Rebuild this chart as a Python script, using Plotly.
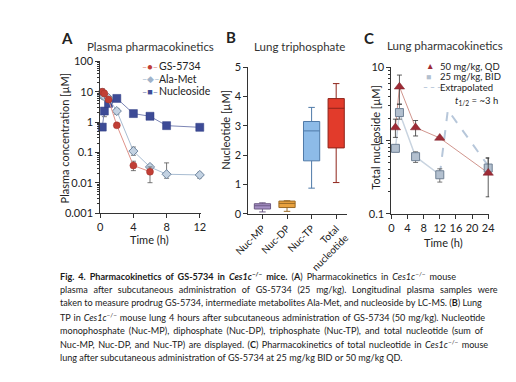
import plotly.graph_objects as go

W, H = 516, 382
FONT = "Lato, 'Open Sans', sans-serif"
TXT = "#222222"
AX = "#333333"

# ---------------- Panel A: plasma pharmacokinetics ----------------
a_time_gs = [0.25, 0.5, 1, 2, 4, 6]
a_gs = [10.0, 8.7, 5.5, 0.78, 0.037, 0.023]
a_gs_up = [2.5, 2.0, 1.0, 0.1, 0.014, 0.010]
a_gs_dn = [2.0, 1.5, 1.0, 0.1, 0.012, 0.013]

a_time = [0.25, 0.5, 1, 2, 4, 6, 8, 12]
a_ala = [7.5, 7.0, 6.2, 2.3, 0.11, 0.033, 0.019, 0.018]
a_ala_up = [2.0, 1.5, 1.0, 0.5, 0.04, 0.006, 0.026, 0.004]
a_ala_dn = [1.5, 1.0, 0.8, 0.5, 0.03, 0.006, 0.005, 0.004]
a_nuc = [0.68, 2.3, 4.1, 6.0, 1.9, 1.55, 0.76, 0.67]
a_nuc_up = [0.1, 0.5, 0.6, 0.6, 0.2, 0.15, 0.08, 0.05]
a_nuc_dn = [0.1, 0.8, 0.6, 0.6, 0.2, 0.15, 0.08, 0.05]

a_yticks = [0.001, 0.01, 0.1, 1, 10, 100]
a_yticktext = ["0.001", "0.01", "0.1", "1", "10", "100"]
a_xticks = [0, 4, 8, 12]

# ---------------- Panel B: lung triphosphate ----------------
b_cats = ["Nuc-MP", "Nuc-DP", "Nuc-TP", "Total<br>nucleotide"]
b_q1 = [0.17, 0.22, 1.81, 2.25]
b_med = [0.28, 0.36, 2.83, 3.60]
b_q3 = [0.35, 0.44, 3.15, 3.93]
b_lo = [0.07, 0.09, 0.88, 1.07]
b_hi = [0.38, 0.45, 3.63, 4.44]
b_fill = ["#a58fc4", "#e9a23f", "#8dbbe8", "#e23b2b"]
b_line = ["#6d5a85", "#9a6a25", "#4f7aa8", "#8f241a"]

# ---------------- Panel C: lung pharmacokinetics ----------------
c_time = [1, 2, 6, 12, 24]
c_qd = [1.5, 5.4, 1.5, 1.08, 0.36]
c_qd_up = [0.45, 2.4, 0.37, 0.0, 0.22]
c_qd_dn = [0.40, 2.3, 0.35, 0.0, 0.19]
c_bid = [0.78, 2.4, 0.60, 0.34, 0.42]
c_bid_up = [0.05, 0.75, 0.10, 0.07, 0.15]
c_bid_dn = [0.05, 0.45, 0.10, 0.07, 0.06]
c_ext_time = [12, 14, 24]
c_ext = [0.34, 2.6, 0.45]
c_xticks = [0, 4, 8, 12, 16, 20, 24]
c_yticks = [0.1, 1, 10]
c_yticktext = ["0.1", "1", "10"]

caption_lines = [
    "<b>Fig. 4. Pharmacokinetics of GS-5734 in <i>Ces1c</i><sup>−/−</sup> mice.</b> (<b>A</b>) Pharmacokinetics in <i>Ces1c</i><sup>−/−</sup> mouse",
    "plasma after subcutaneous administration of GS-5734 (25 mg/kg). Longitudinal plasma samples were",
    "taken to measure prodrug GS-5734, intermediate metabolites Ala-Met, and nucleoside by LC-MS. (<b>B</b>) Lung",
    "TP in <i>Ces1c</i><sup>−/−</sup> mouse lung 4 hours after subcutaneous administration of GS-5734 (50 mg/kg). Nucleotide",
    "monophosphate (Nuc-MP), diphosphate (Nuc-DP), triphosphate (Nuc-TP), and total nucleotide (sum of",
    "Nuc-MP, Nuc-DP, and Nuc-TP) are displayed. (<b>C</b>) Pharmacokinetics of total nucleotide in <i>Ces1c</i><sup>−/−</sup> mouse",
    "lung after subcutaneous administration of GS-5734 at 25 mg/kg BID or 50 mg/kg QD.",
]
# extra word-gap padding (thin / hair spaces), to imitate the justified caption
caption_pad = ["\u2009\u200a", "\u2009\u2009\u2009", "", "\u200a", "\u2009\u200a", "\u2009", ""]

fig = go.Figure()

def err(up, dn, color="#555555"):
    return dict(type="data", symmetric=False, array=up, arrayminus=dn,
                thickness=0.8, width=2.5, color=color)

# Panel A traces
fig.add_trace(go.Scatter(x=a_time, y=a_nuc, mode="lines+markers", xaxis="x", yaxis="y",
                         line=dict(color="#7d86b5", width=1),
                         marker=dict(symbol="square", size=8, color="#3d4b96", line=dict(color="#2d3a80", width=0.5)),
                         error_y=err(a_nuc_up, a_nuc_dn), cliponaxis=False, showlegend=False))
fig.add_trace(go.Scatter(x=a_time, y=a_ala, mode="lines+markers", xaxis="x", yaxis="y",
                         line=dict(color="#a9bdd2", width=1),
                         marker=dict(symbol="diamond", size=7, color="#c3d2e2", line=dict(color="#6d849e", width=1)),
                         error_y=err(a_ala_up, a_ala_dn), cliponaxis=False, showlegend=False))
fig.add_trace(go.Scatter(x=a_time_gs, y=a_gs, mode="lines+markers", xaxis="x", yaxis="y",
                         line=dict(color="#e0938a", width=1),
                         marker=dict(symbol="circle", size=7, color="#c13e35", line=dict(color="#a0302a", width=0.5)),
                         error_y=err(a_gs_up, a_gs_dn), cliponaxis=False, showlegend=False))

# Panel B traces
for i, cat in enumerate(b_cats):
    fig.add_trace(go.Box(x=[cat], q1=[b_q1[i]], median=[b_med[i]], q3=[b_q3[i]],
                         lowerfence=[b_lo[i]], upperfence=[b_hi[i]],
                         xaxis="x2", yaxis="y2", width=0.66, whiskerwidth=0.4,
                         fillcolor=b_fill[i], line=dict(color=b_line[i], width=1),
                         boxpoints=False, showlegend=False, hoverinfo="skip"))

# Panel C traces
fig.add_trace(go.Scatter(x=c_ext_time, y=c_ext, mode="lines", xaxis="x3", yaxis="y3",
                         line=dict(color="#b7c7da", width=2, dash="dash"),
                         cliponaxis=False, showlegend=False))
fig.add_trace(go.Scatter(x=c_time[:4], y=c_bid[:4], mode="lines", xaxis="x3", yaxis="y3",
                         line=dict(color="#c9d4e0", width=1.5), showlegend=False))
fig.add_trace(go.Scatter(x=c_time, y=c_qd, mode="lines", xaxis="x3", yaxis="y3",
                         line=dict(color="#c47a70", width=0.8), showlegend=False))
fig.add_trace(go.Scatter(x=c_time, y=c_bid, mode="markers", xaxis="x3", yaxis="y3",
                         marker=dict(symbol="square", size=8, color="#b3c0cf", line=dict(color="#6f8094", width=1)),
                         error_y=err(c_bid_up, c_bid_dn), cliponaxis=False, showlegend=False))
fig.add_trace(go.Scatter(x=c_time, y=c_qd, mode="markers", xaxis="x3", yaxis="y3",
                         marker=dict(symbol="triangle-up", size=9, color="#9e2b36", line=dict(color="#7a1f28", width=0.5)),
                         error_y=err(c_qd_up, c_qd_dn, "#333333"), cliponaxis=False, showlegend=False))

axis_common = dict(showline=True, linecolor=AX, linewidth=1, ticks="outside", ticklen=4,
                   tickcolor=AX, tickwidth=1, showgrid=False, zeroline=False,
                   tickfont=dict(family=FONT, size=11, color=TXT))

def px(x):
    return x / W

def py(y):
    return 1 - y / H

fig.update_layout(
    width=W, height=H, margin=dict(l=0, r=0, t=0, b=0),
    paper_bgcolor="white", plot_bgcolor="white",
    font=dict(family=FONT, color=TXT),
    xaxis=dict(axis_common, domain=[px(80.5), px(186)], range=[0, 12.2], tickvals=a_xticks, anchor="y"),
    yaxis=dict(axis_common, domain=[py(205), py(48)], type="log", range=[-3, 2],
               tickvals=a_yticks, ticktext=a_yticktext, anchor="x",
               minor=dict(ticks="outside", ticklen=2, tickcolor=AX, dtick="D1")),
    xaxis2=dict(axis_common, domain=[px(235), px(338)], range=[-0.57, 3.45], anchor="y2",
                type="category", categoryorder="array", categoryarray=b_cats,
                tickangle=-45, tickfont=dict(family=FONT, size=10, color=TXT)),
    yaxis2=dict(axis_common, domain=[py(206), py(54)], range=[0, 5], dtick=1, anchor="x2"),
    xaxis3=dict(axis_common, domain=[px(384), px(486)], range=[0, 24.25], tickvals=c_xticks, anchor="y3"),
    yaxis3=dict(axis_common, domain=[py(205.7), py(54)], type="log", range=[-1, 1],
                tickvals=c_yticks, ticktext=c_yticktext, anchor="x3",
                minor=dict(ticks="outside", ticklen=2, tickcolor=AX, dtick="D1")),
)

anns = []

def ann(x, y, text, size=11, xanchor="center", angle=0, color=TXT):
    anns.append(dict(x=px(x), y=py(y), xref="paper", yref="paper", text=text, showarrow=False,
                     xanchor=xanchor, yanchor="middle", textangle=angle,
                     font=dict(family=FONT, size=size, color=color)))

# Panel letters & titles
ann(46, 24, "<b>A</b>", 15)
ann(217, 23, "<b>B</b>", 15)
ann(361, 24, "<b>C</b>", 15)
ann(133, 33, "Plasma pharmacokinetics", 11.5, color="#333333")
ann(288, 33, "Lung triphosphate", 11.5, color="#333333")
ann(440, 32, "Lung pharmacokinetics", 11.5, color="#333333")

# Axis titles
ann(43.5, 127, "Plasma concentration [µM]", 11, angle=-90)
ann(132, 232, "Time (h)", 11)
ann(211.5, 119, "Nucleotide [µM]", 11, angle=-90)
ann(368, 127, "Total nucleoside [µM]", 11, angle=-90)
ann(438, 236, "Time (h)", 11)

# Legend A
ann(122, 53, '<span style="color:#e0938a">–</span><span style="color:#c13e35">●</span><span style="color:#e0938a">–</span>', 9, "left")
ann(140, 53, "GS-5734", 10.5, "left")
ann(122, 66, '<span style="color:#a9bdd2">–</span><span style="color:#9fb3ca">◆</span><span style="color:#a9bdd2">–</span>', 9, "left")
ann(140, 66, "Ala-Met", 10.5, "left")
ann(122, 79, '<span style="color:#7d86b5">–</span><span style="color:#3d4b96">■</span><span style="color:#7d86b5">–</span>', 9, "left")
ann(140, 79, "Nucleoside", 10.5, "left")

# Legend C
ann(418, 53, '<span style="color:#9e2b36">▲</span>', 8.5, "left")
ann(433, 53, "50 mg/kg, QD", 9.5, "left")
ann(418, 64, '<span style="color:#b3c0cf">■</span>', 8.5, "left")
ann(433, 64, "25 mg/kg, BID", 9.5, "left")
ann(415, 75, '<span style="color:#b7c7da"><b>– – –</b></span>', 8.5, "left")
ann(433, 75, "Extrapolated", 9.5, "left")
ann(448, 89, "<i>t</i><sub>1/2</sub> = ~3 h", 9.5, "left")

# Caption
cap_y = [270, 284, 298, 312.5, 327, 341, 355]
for yy, line, pad in zip(cap_y, caption_lines, caption_pad):
    ann(37, yy, line.replace(" ", " " + pad), 9.1, "left", color="#1a1a1a")

fig.update_layout(annotations=anns)
fig.write_html("out.html")
